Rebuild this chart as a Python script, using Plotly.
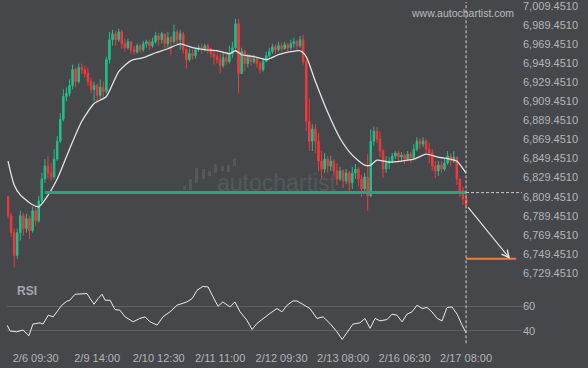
import plotly.graph_objects as go
import numpy as np

# ---------------- data ----------------
CLOSE = [6789.4, 6771.6, 6747.6, 6771.6, 6789.4, 6775.8, 6786.3, 6773.7, 6794.6, 6784.1,
         6805.0, 6828.1, 6841.7, 6834.4, 6830.2, 6849.0, 6867.8, 6890.8, 6914.9, 6918.0,
         6926.4, 6943.1, 6930.6, 6945.2, 6943.1, 6938.9, 6930.6, 6922.2, 6926.4, 6915.9,
         6924.3, 6920.1, 6953.6, 6974.5, 6980.7, 6974.5, 6982.8, 6970.3, 6966.1, 6972.4,
         6964.0, 6961.9, 6968.2, 6964.0, 6970.3, 6972.4, 6968.2, 6972.4, 6978.6, 6974.5,
         6980.7, 6970.3, 6976.6, 6972.4, 6982.8, 6974.5, 6980.7, 6964.0, 6953.6, 6959.8,
         6957.7, 6964.0, 6966.1, 6964.0, 6968.2, 6965.1, 6959.8, 6956.7, 6953.6, 6947.3,
         6955.6, 6951.5, 6959.8, 6966.1, 6991.2, 6938.9, 6961.9, 6949.4, 6955.6, 6951.5,
         6954.6, 6949.4, 6943.1, 6951.5, 6957.7, 6961.9, 6967.1, 6964.0, 6968.2, 6965.1,
         6969.2, 6966.1, 6970.3, 6972.4, 6968.2, 6974.5, 6951.5, 6888.7, 6867.8, 6880.4,
         6867.8, 6846.9, 6838.5, 6849.0, 6841.7, 6846.9, 6836.4, 6828.1, 6836.4, 6826.0,
         6834.4, 6823.9, 6834.4, 6838.5, 6828.1, 6817.6, 6830.2, 6810.3, 6867.8, 6878.3,
         6869.9, 6857.4, 6838.5, 6844.8, 6846.9, 6852.1, 6855.3, 6851.1, 6853.2, 6849.0,
         6854.2, 6850.0, 6859.4, 6867.8, 6864.7, 6867.8, 6859.4, 6855.3, 6841.7, 6836.4,
         6842.7, 6838.5, 6844.8, 6852.1, 6846.9, 6851.1, 6828.1, 6815.5, 6807.2, 6800.9]
HIGH = [6810.3, 6792.5, 6775.8, 6775.8, 6794.6, 6792.5, 6791.5, 6789.4, 6798.8, 6799.8,
        6810.3, 6834.4, 6849.0, 6852.1, 6844.8, 6859.4, 6873.0, 6897.1, 6922.2, 6924.3,
        6932.6, 6948.3, 6945.2, 6949.4, 6949.4, 6947.3, 6945.2, 6934.7, 6930.6, 6928.5,
        6932.6, 6930.6, 6956.7, 6982.8, 6984.9, 6983.9, 6986.0, 6984.9, 6975.5, 6975.5,
        6972.4, 6968.2, 6970.3, 6970.3, 6973.4, 6974.5, 6974.5, 6976.6, 6982.8, 6981.8,
        6982.8, 6980.7, 6982.8, 6978.6, 6990.2, 6984.9, 6984.9, 6982.8, 6966.1, 6965.1,
        6964.0, 6966.1, 6969.2, 6970.3, 6970.3, 6970.3, 6966.1, 6964.0, 6959.8, 6959.8,
        6961.9, 6961.9, 6968.2, 6972.4, 6996.4, 6996.4, 6966.1, 6964.0, 6959.8, 6957.7,
        6958.8, 6955.6, 6951.5, 6955.6, 6961.9, 6966.1, 6970.3, 6970.3, 6972.4, 6971.3,
        6972.4, 6971.3, 6974.5, 6976.6, 6974.5, 6978.6, 6979.7, 6953.6, 6912.8, 6885.6,
        6885.6, 6876.2, 6857.4, 6855.3, 6852.1, 6852.1, 6849.0, 6844.8, 6840.6, 6838.5,
        6838.5, 6836.4, 6840.6, 6843.8, 6840.6, 6832.3, 6834.4, 6854.2, 6880.4, 6883.5,
        6882.5, 6878.3, 6859.4, 6852.1, 6851.1, 6855.3, 6857.4, 6857.4, 6856.3, 6855.3,
        6857.4, 6856.3, 6864.7, 6872.0, 6870.9, 6872.0, 6869.9, 6865.7, 6859.4, 6846.9,
        6846.9, 6846.9, 6849.0, 6857.4, 6855.3, 6857.4, 6851.1, 6828.1, 6819.7, 6813.5]
LOW = [6786.3, 6767.4, 6735.0, 6744.4, 6763.2, 6768.5, 6771.6, 6765.3, 6771.6, 6778.9,
       6782.1, 6803.0, 6823.9, 6828.1, 6826.0, 6828.1, 6846.9, 6865.7, 6888.7, 6909.6,
       6914.9, 6922.2, 6924.3, 6928.5, 6938.9, 6934.7, 6926.4, 6918.0, 6909.6, 6907.5,
       6911.7, 6913.8, 6918.0, 6949.4, 6968.2, 6968.2, 6972.4, 6965.1, 6961.9, 6964.0,
       6959.8, 6958.8, 6959.8, 6960.9, 6961.9, 6966.1, 6964.0, 6966.1, 6970.3, 6968.2,
       6970.3, 6965.1, 6966.1, 6958.8, 6970.3, 6968.2, 6964.0, 6959.8, 6944.1, 6951.5,
       6953.6, 6954.6, 6961.9, 6959.8, 6961.9, 6959.8, 6955.6, 6948.3, 6949.4, 6938.9,
       6945.2, 6947.3, 6949.4, 6955.6, 6964.0, 6918.0, 6938.9, 6941.0, 6945.2, 6947.3,
       6949.4, 6945.2, 6938.9, 6941.0, 6951.5, 6955.6, 6959.8, 6959.8, 6961.9, 6961.9,
       6964.0, 6961.9, 6964.0, 6966.1, 6964.0, 6966.1, 6948.3, 6878.3, 6857.4, 6857.4,
       6855.3, 6836.4, 6829.1, 6834.4, 6834.4, 6836.4, 6830.2, 6821.8, 6826.0, 6818.7,
       6822.8, 6815.5, 6817.6, 6828.1, 6820.8, 6809.3, 6815.5, 6794.6, 6809.3, 6862.6,
       6865.7, 6851.1, 6829.1, 6834.4, 6838.5, 6844.8, 6849.0, 6846.9, 6846.9, 6843.8,
       6846.9, 6844.8, 6849.0, 6857.4, 6859.4, 6861.5, 6855.3, 6844.8, 6836.4, 6829.1,
       6831.2, 6834.4, 6836.4, 6842.7, 6841.7, 6844.8, 6821.8, 6809.3, 6800.9, 6796.7]
FIRST_OPEN = 6809.3

MA_IDX = [0, 2, 4, 8, 10, 12, 16, 20, 24, 28, 32, 36, 40, 44, 48, 52, 56, 60, 64, 68, 72,
          74, 76, 80, 84, 88, 92, 95, 97, 100, 104, 108, 112, 116, 118, 120, 124, 128,
          132, 136, 140, 144, 146, 149]
MA_VAL = [6846.9, 6821.8, 6811.3, 6800.9, 6798.8, 6806.1, 6828.0, 6859.4, 6888.7, 6907.5,
          6914.8, 6941.0, 6952.5, 6955.6, 6960.8, 6965.0, 6970.2, 6966.1, 6964.0, 6962.9,
          6959.8, 6962.9, 6958.7, 6956.7, 6953.5, 6958.7, 6961.9, 6962.9, 6956.7, 6930.5,
          6898.1, 6870.9, 6853.1, 6842.7, 6842.7, 6847.9, 6845.8, 6846.9, 6848.9, 6854.2,
          6851.0, 6848.9, 6846.9, 6834.3]

RSI_IDX = [-0.3, 0.7, 2.8, 4.9, 6.8, 8.1, 10.4, 11.4, 13.1, 14.7, 16.3, 17.5, 19.1, 20.1,
           21.8, 24.1, 25.7, 26.7, 28.0, 29.3, 30.6, 31.6, 33.2, 34.8, 36.4, 38.1, 40.7,
           42.9, 44.6, 46.2, 48.5, 50.4, 52.7, 55.0, 58.2, 59.9, 61.5, 63.4, 65.1, 66.7,
           68.3, 69.9, 72.2, 73.8, 75.5, 77.7, 79.4, 81.0, 83.0, 85.2, 87.5, 89.1, 90.8,
           92.7, 94.0, 96.0, 98.2, 100.5, 102.5, 104.7, 107.0, 108.7, 110.6, 112.2, 114.5,
           116.1, 117.8, 119.4, 121.0, 123.3, 124.9, 126.5, 128.2, 129.8, 131.4, 133.1,
           134.7, 136.3, 137.9, 139.6, 141.2, 142.8, 144.4, 146.1, 147.7, 149.0]
RSI_VAL = [44.7, 39.8, 39.2, 40.6, 35.9, 45.5, 46.6, 45.5, 52.9, 51.5, 57.0, 61.1, 64.3, 65.2,
           70.1, 70.1, 70.7, 66.6, 61.9, 66.6, 70.1, 65.2, 65.2, 57.5, 57.0, 51.5, 47.4,
           50.2, 51.5, 47.4, 44.7, 51.5, 55.6, 61.1, 63.8, 66.6, 73.4, 76.6, 76.1, 67.9,
           60.2, 63.8, 59.7, 63.8, 55.6, 48.8, 41.1, 46.1, 50.2, 54.3, 58.4, 55.6, 61.1,
           64.6, 64.6, 61.9, 58.4, 50.2, 51.5, 46.1, 39.2, 32.9, 39.2, 45.5, 46.6, 50.2,
           42.0, 50.2, 48.2, 49.3, 53.7, 52.9, 47.4, 53.7, 55.6, 61.1, 58.4, 59.2, 55.6,
           50.2, 48.2, 59.2, 59.7, 53.7, 44.7, 38.4]

TIME_TICK_IDX = [9, 29, 49, 69, 89, 109, 129, 149]
TIME_TICK_TEXT = ["2/6 09:30", "2/9 14:00", "2/10 12:30", "2/11 11:00",
                  "2/12 09:30", "2/13 08:00", "2/16 06:30", "2/17 08:00"]
PRICE_TICKS = [6729.451, 6749.451, 6769.451, 6789.451, 6809.451, 6829.451, 6849.451,
               6869.451, 6889.451, 6909.451, 6929.451, 6949.451, 6969.451, 6989.451, 7009.451]
RSI_TICKS = [40, 60]

SUPPORT_LEVEL = 6813.7
SUPPORT_START = 12
TARGET_LEVEL = 6744.1
LAST_IDX = 149
ARROW_START = 6799.8
ARROW_END_IDX = 163.3
TARGET_END_IDX = 165.3

# ---------------- styling ----------------
BG = "#45474b"
TXT = "#b3b5b8"
FONT = "Liberation Sans, Arial, sans-serif"
W, H = 588, 368
ML, MR, MT, MB = 7, 66, 0, 23
PW, PH = W - ML - MR, H - MT - MB


def px(x, y):
    return (x - ML) / PW, 1 - (y - MT) / PH


opens = [FIRST_OPEN] + CLOSE[:-1]
idx = np.arange(len(CLOSE))

fig = go.Figure()
fig.add_trace(go.Candlestick(
    x=idx, open=opens, high=HIGH, low=LOW, close=CLOSE,
    increasing=dict(line=dict(color="#1fc08b", width=1), fillcolor="#1fc08b"),
    decreasing=dict(line=dict(color="#f4393d", width=1), fillcolor="#f4393d"),
    whiskerwidth=0, xaxis="x", yaxis="y", hoverinfo="skip", showlegend=False))
fig.add_trace(go.Scatter(
    x=MA_IDX, y=MA_VAL, mode="lines", line=dict(color="#e4e4e4", width=1.3, shape="spline", smoothing=0.6),
    xaxis="x", yaxis="y", hoverinfo="skip", showlegend=False))
fig.add_trace(go.Scatter(
    x=RSI_IDX, y=RSI_VAL, mode="lines", line=dict(color="#ececec", width=1),
    xaxis="x2", yaxis="y2", hoverinfo="skip", showlegend=False))

xr = [-0.33, 167.2]
fig.update_layout(
    width=W, height=H, margin=dict(l=ML, r=MR, t=MT, b=MB),
    paper_bgcolor=BG, plot_bgcolor=BG,
    font=dict(family=FONT, color=TXT, size=11),
    xaxis=dict(domain=[0, 1], anchor="y", range=xr, showgrid=False, zeroline=False,
               showticklabels=False, rangeslider=dict(visible=False), showline=False),
    xaxis2=dict(domain=[0, 1], anchor="y2", range=xr, matches="x", showgrid=False,
                zeroline=False, tickmode="array", tickvals=TIME_TICK_IDX, ticktext=TIME_TICK_TEXT,
                ticks="outside", ticklen=3, tickcolor=BG, tickfont=dict(size=11, color=TXT)),
    yaxis=dict(domain=[1 - 280 / PH, 1], anchor="x", side="right", range=[6721.4, 7014.16],
               showgrid=False, zeroline=False, tickmode="array", tickvals=PRICE_TICKS,
               ticklabeloverflow="allow",
               ticktext=[f"{v:,.4f}" for v in PRICE_TICKS], tickfont=dict(size=11, color=TXT)),
    yaxis2=dict(domain=[0, 62 / PH], anchor="x2", side="right", range=[28.3, 79.1],
                showgrid=True, gridcolor="#5e6064", gridwidth=1, zeroline=False,
                tickmode="array", tickvals=RSI_TICKS, tickfont=dict(size=11, color=TXT)),
    showlegend=False,
)

shapes = [
    dict(type="line", xref="x", yref="y", x0=SUPPORT_START, x1=LAST_IDX,
         y0=SUPPORT_LEVEL, y1=SUPPORT_LEVEL, line=dict(color="#24a67a", width=3)),
    dict(type="line", xref="x", yref="y", x0=LAST_IDX, x1=xr[1],
         y0=SUPPORT_LEVEL, y1=SUPPORT_LEVEL, line=dict(color="#cfcfcf", width=1, dash="3px,2px")),
    dict(type="line", xref="x", yref="paper", x0=LAST_IDX, x1=LAST_IDX, y0=0.005, y1=1,
         line=dict(color="#cfcfcf", width=1, dash="3px,2px")),
    dict(type="line", xref="x", yref="y", x0=LAST_IDX, x1=TARGET_END_IDX,
         y0=TARGET_LEVEL, y1=TARGET_LEVEL, line=dict(color="#f37a3c", width=2)),
]
# watermark logo bars (pixel boxes)
LOGO = [(183, 185, 186, 189), (189, 178, 192, 189), (195, 167, 198, 182), (202, 168, 205, 178),
        (208, 170, 211, 175), (214, 163, 217, 172), (221, 165, 224, 170), (227, 164, 230, 171),
        (233, 158, 236, 165)]
for (a, b, c, d) in LOGO:
    x0, y1 = px(a, b)
    x1, y0 = px(c, d)
    shapes.append(dict(type="rect", xref="paper", yref="paper", x0=x0, x1=x1, y0=y0, y1=y1,
                       line=dict(width=0), fillcolor="#56585c", layer="below"))
fig.update_layout(shapes=shapes)

wx, wy = px(277, 182)
sx, sy = px(462, 11)
rx, ry = px(15, 291)
fig.update_layout(annotations=[
    dict(xref="paper", yref="paper", x=wx, y=wy, text="autochartist", showarrow=False,
         font=dict(size=23, color="#55575b", family=FONT), xanchor="center", yanchor="middle"),
    dict(xref="paper", yref="paper", x=sx, y=sy, text="www.autochartist.com", showarrow=False,
         font=dict(size=10.5, color="#b9bbbe", family=FONT), xanchor="center", yanchor="middle"),
    dict(xref="paper", yref="paper", x=rx, y=ry, text="<b>RSI</b>", showarrow=False,
         font=dict(size=12, color="#a4a7ac", family=FONT), xanchor="left", yanchor="middle"),
    dict(xref="x", yref="y", x=ARROW_END_IDX, y=TARGET_LEVEL, axref="x", ayref="y",
         ax=LAST_IDX + 0.3, ay=ARROW_START, showarrow=True, arrowhead=5, arrowsize=1.3,
         arrowwidth=1.1, arrowcolor="#e8e8e8", text=""),
])

fig.write_html("out.html")
